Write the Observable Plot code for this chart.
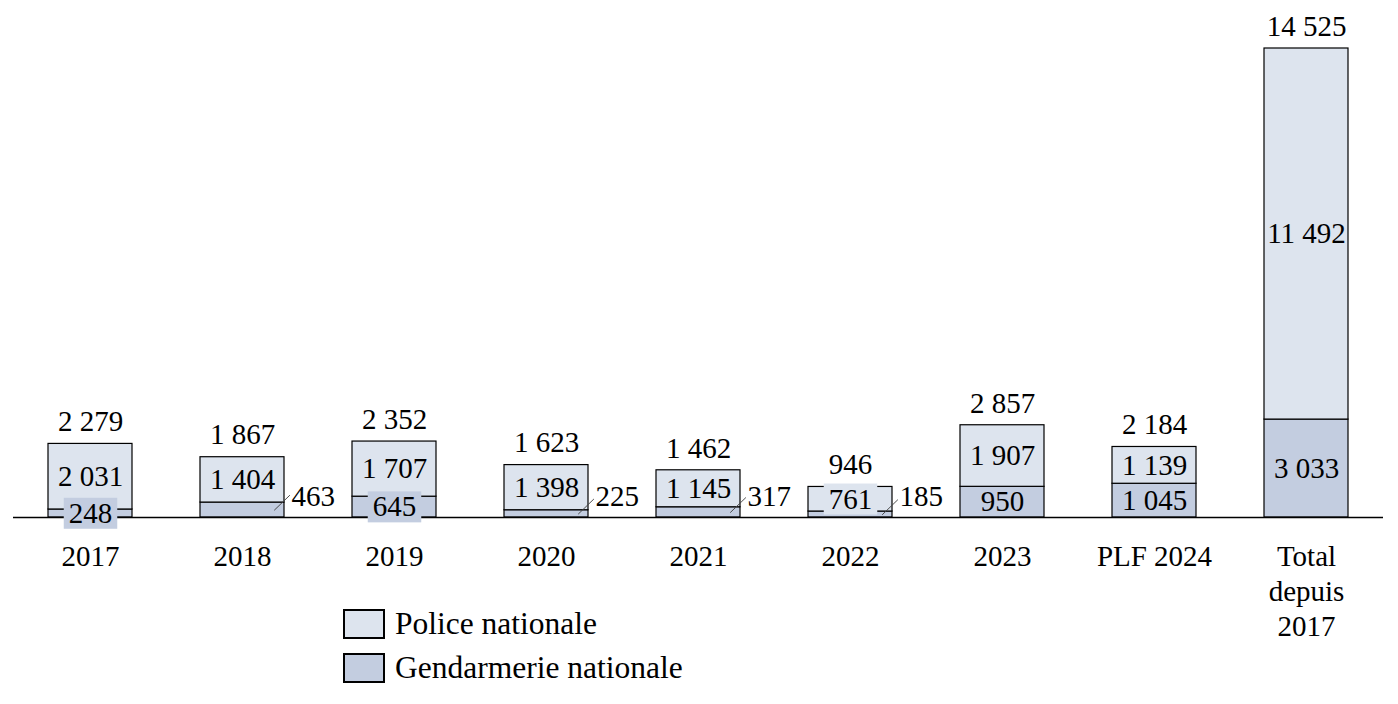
<!DOCTYPE html>
<html><head><meta charset="utf-8">
<script src="https://cdn.jsdelivr.net/npm/d3@7"></script>
<script src="https://cdn.jsdelivr.net/npm/@observablehq/plot@0.6"></script>
<style>
body{margin:0;background:#fff;font-family:"Liberation Serif",serif;}
#wrap{position:relative;width:1398px;height:704px;}
#legend{position:absolute;left:343px;top:609px;font-size:31.5px;color:#000;}
.item{display:flex;align-items:center;height:30px;margin-bottom:14px;}
.sw{box-sizing:border-box;width:42px;height:30px;border:2px solid #000;margin-right:10px;}
</style></head><body><div id="wrap"><div id="chart"></div><div id="legend"></div></div>
<script>
const categories = ["2017","2018","2019","2020","2021","2022","2023","PLF 2024","Total\ndepuis\n2017"];
const police = [2031,1404,1707,1398,1145,761,1907,1139,11492];
const gendarmerie = [248,463,645,225,317,185,950,1045,3033];
const totals = [2279,1867,2352,1623,1462,946,2857,2184,14525];
const gendLabelMode = ["boxed","outside","boxed","outside","outside","outside","inside","inside","inside"];
const policeLabelMode = ["inside","inside","inside","inside","inside","boxed","inside","inside","inside"];
const seriesNames = ["Police nationale","Gendarmerie nationale"];
const seriesColors = ["#dde4ee","#c3cde0"];

const fmt = v => d3.format(",")(v).replace(/,/g, " ");
const rows = [];
categories.forEach((c, i) => {
  rows.push({cat: c, series: seriesNames[1], value: gendarmerie[i]});
  rows.push({cat: c, series: seriesNames[0], value: police[i]});
});
const idx = categories.map((c, i) => i);
const gendIn = idx.filter(i => gendLabelMode[i] === "inside");
const gendBox = idx.filter(i => gendLabelMode[i] === "boxed");
const gendOut = idx.filter(i => gendLabelMode[i] === "outside");
const polIn = idx.filter(i => policeLabelMode[i] === "inside");
const polBox = idx.filter(i => policeLabelMode[i] === "boxed");

const FS = 29;
const leader = {draw(ctx, l) { ctx.moveTo(0, 0); ctx.lineTo(0, -l); }};

const chart = Plot.plot({
  width: 1398, height: 650,
  marginTop: 48, marginBottom: 133, marginLeft: 0, marginRight: 2,
  style: {fontFamily: "Liberation Serif, serif", background: "#fff"},
  x: {domain: categories, paddingInner: 0.448, paddingOuter: 0.309, axis: null},
  y: {domain: [0, 14525], axis: null},
  color: {domain: seriesNames, range: seriesColors},
  marks: [
    Plot.barY(rows, {x: "cat", y: "value", fill: "series", stroke: "#000", strokeWidth: 1.2}),
    Plot.ruleY([0], {stroke: "#000", strokeWidth: 1.5, insetLeft: 13, insetRight: 13}),
    Plot.axisX({tickSize: 0, tickPadding: 24, fontSize: FS, lineHeight: 1.2, fill: "#000", label: null}),
    Plot.text(idx, {x: i => categories[i], y: i => totals[i], text: i => fmt(totals[i]), dy: -22, fontSize: FS, fill: "#000"}),
    Plot.text(polIn, {x: i => categories[i], y: i => gendarmerie[i] + police[i] / 2, text: i => fmt(police[i]), fontSize: FS, fill: "#000"}),
    Plot.text(polBox, {x: i => categories[i], y: i => gendarmerie[i] + police[i] / 2, text: i => fmt(police[i]), fontSize: FS, fill: "#000", ariaDescription: "boxed-police"}),
    Plot.text(gendIn, {x: i => categories[i], y: i => gendarmerie[i] / 2, text: i => fmt(gendarmerie[i]), fontSize: FS, fill: "#000"}),
    Plot.text(gendBox, {x: i => categories[i], y: i => gendarmerie[i] / 2, text: i => fmt(gendarmerie[i]), fontSize: FS, fill: "#000", ariaDescription: "boxed-gend"}),
    Plot.vector(gendOut, {x: i => categories[i], y: i => gendarmerie[i] / 2, length: 21, rotate: 46, anchor: "start", dx: 32, shape: leader, stroke: "#444", strokeWidth: 0.9}),
    Plot.text(gendOut, {x: i => categories[i], y: 0, text: i => fmt(gendarmerie[i]), dx: 49, dy: -21, textAnchor: "start", fontSize: FS, fill: "#000"})
  ]
});
document.getElementById("chart").appendChild(chart);

function boxify(label, color) {
  chart.querySelectorAll(`g[aria-description="${label}"] text`).forEach(t => {
    const b = t.getBBox();
    const r = document.createElementNS("http://www.w3.org/2000/svg", "rect");
    r.setAttribute("x", b.x - 5); r.setAttribute("y", b.y + 1);
    r.setAttribute("width", b.width + 10); r.setAttribute("height", b.height - 1);
    r.setAttribute("fill", color);
    const tr = t.getAttribute("transform");
    if (tr) r.setAttribute("transform", tr);
    t.parentNode.insertBefore(r, t);
  });
}
boxify("boxed-gend", seriesColors[1]);
boxify("boxed-police", seriesColors[0]);

const legend = document.getElementById("legend");
seriesNames.forEach((n, k) => {
  const it = document.createElement("div"); it.className = "item";
  const sw = document.createElement("div"); sw.className = "sw"; sw.style.background = seriesColors[k];
  const tx = document.createElement("span"); tx.textContent = n;
  it.appendChild(sw); it.appendChild(tx); legend.appendChild(it);
});
</script></body></html>
